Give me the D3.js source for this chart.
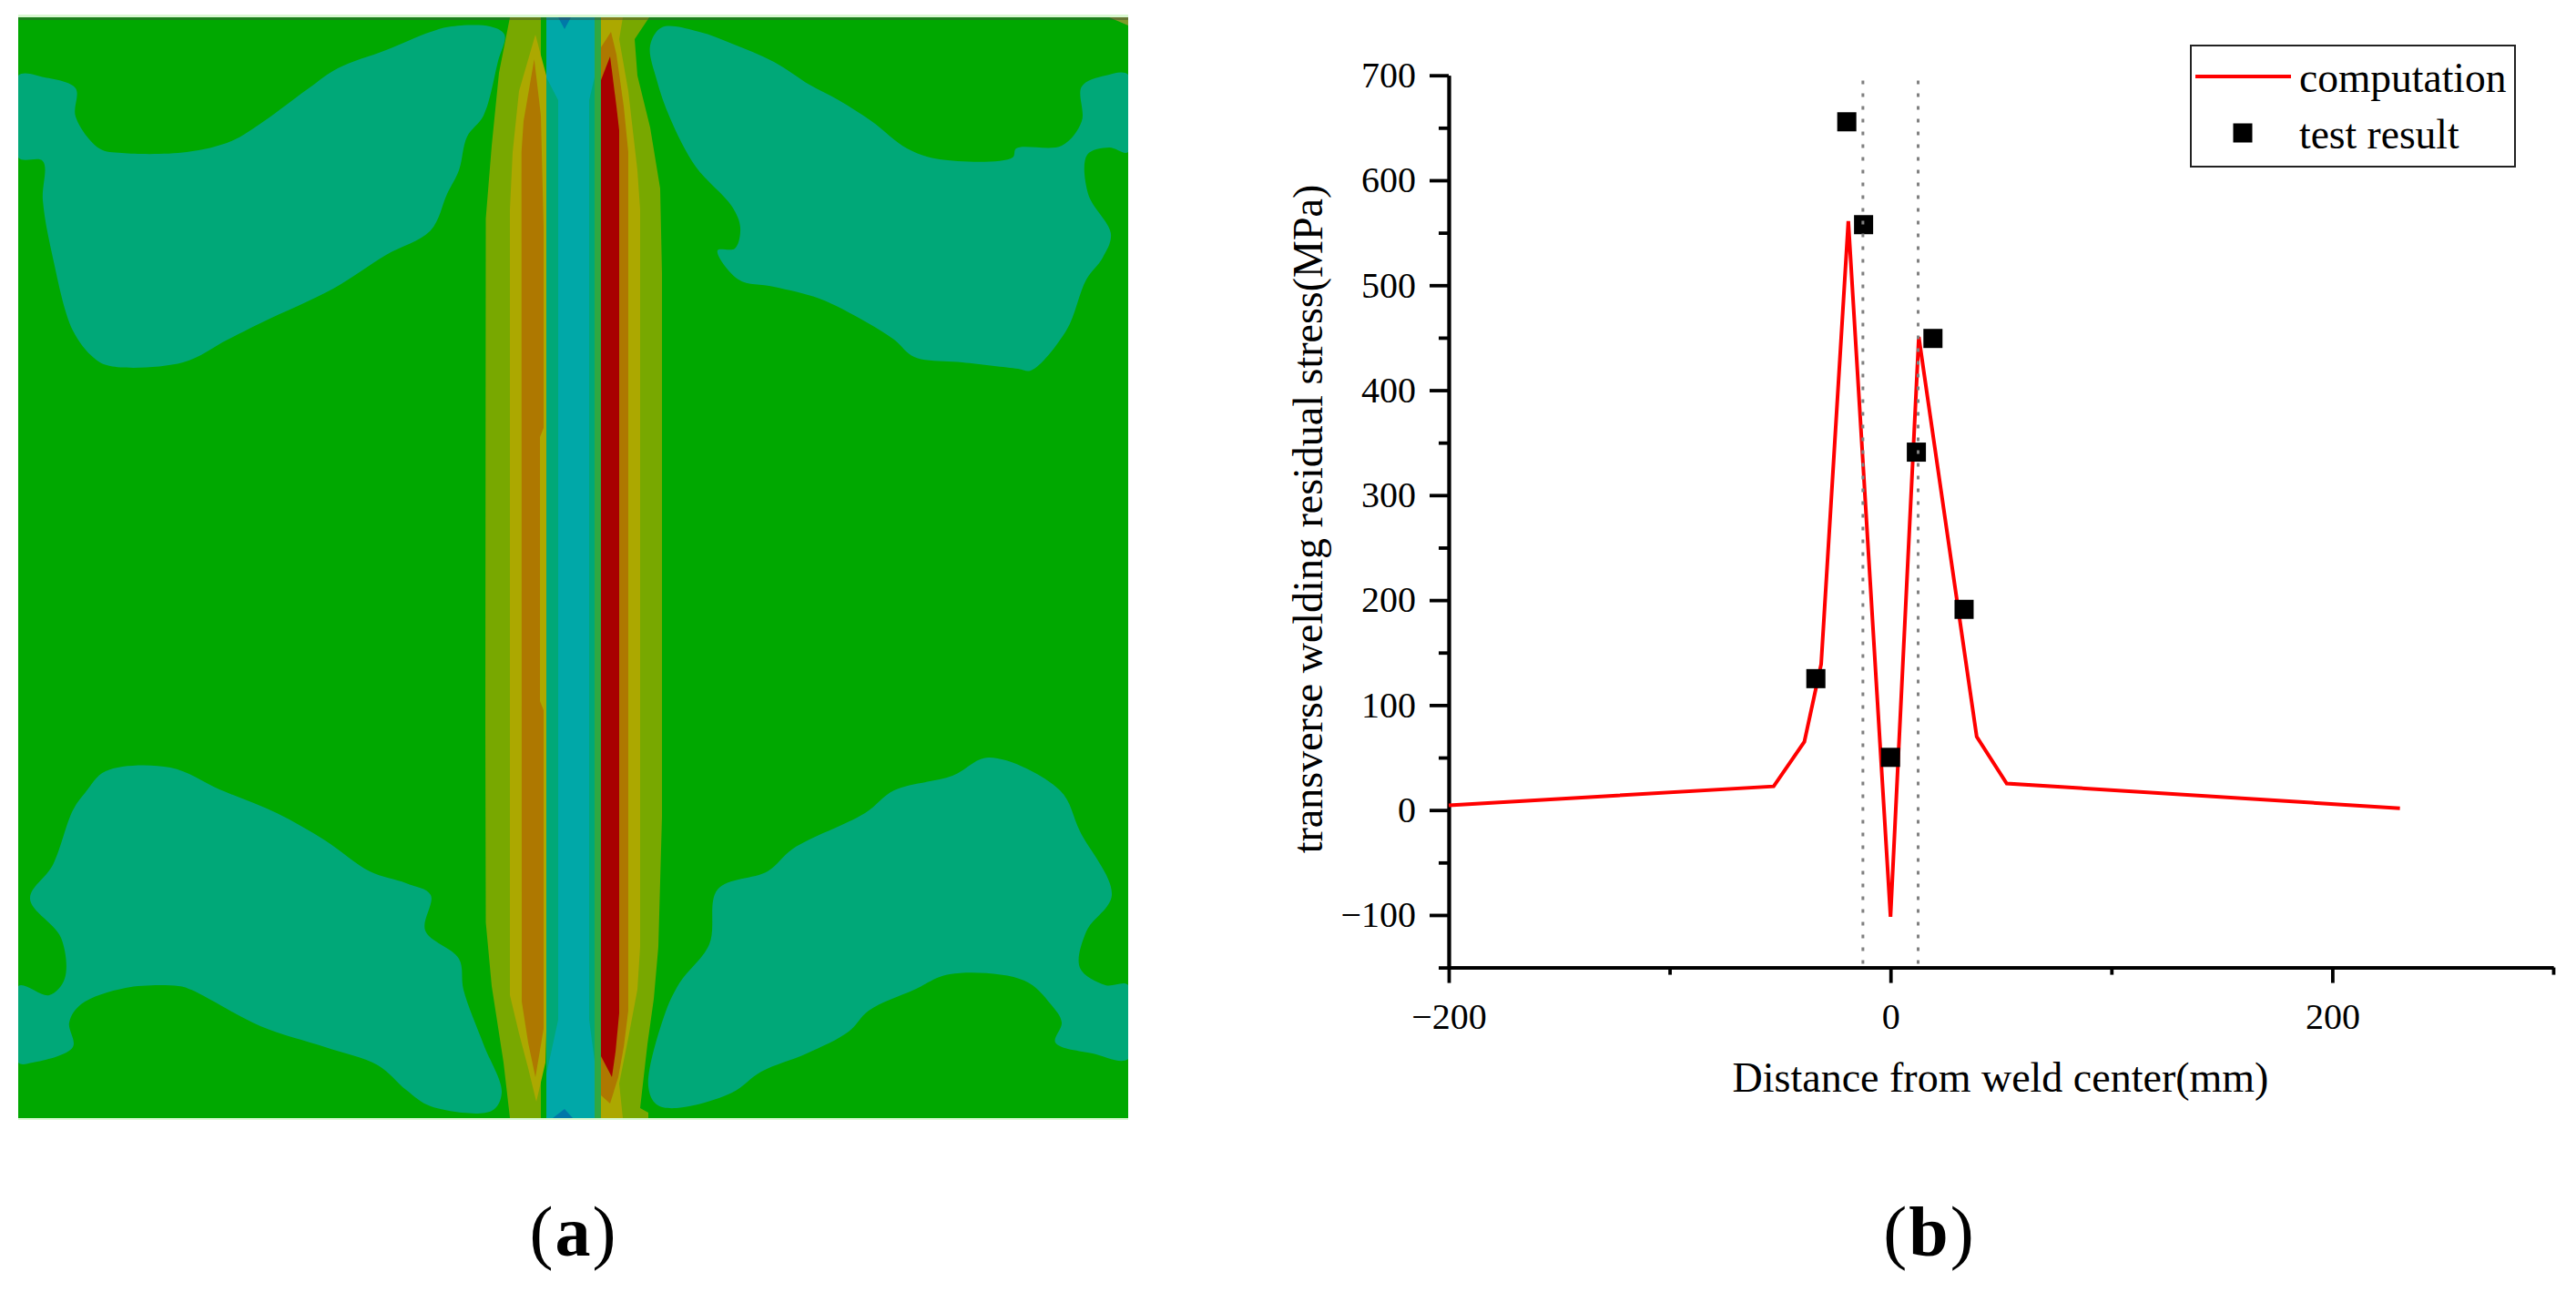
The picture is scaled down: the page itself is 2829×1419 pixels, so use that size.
<!DOCTYPE html>
<html>
<head>
<meta charset="utf-8">
<script src="https://cdn.jsdelivr.net/npm/d3@7"></script>
<style>
  body { margin: 0; background: #fff; }
  svg { display: block; }
  text { font-family: "Liberation Serif", serif; fill: #000; }
  .axis path, .axis line { stroke: #000; stroke-width: 3.8; }
  .axis text { font-size: 40px; font-family: "Liberation Serif", serif; }
</style>
</head>
<body>
<script>
const width = 2829,
      height = 1419;

// computed stress curve
const curveX = [-200, -52.9, -39, -31.4, -19.1, 0, 12.8, 39, 52.6, 230.6];
const curveY = [4.5, 22.6, 65, 139, 561, -101.7, 450.7, 70, 25.3, 1.7];

// measured points
const testX = [-33.8, -19.8, -12.2, 0, 11.7, 19.2, 33.3];
const testY = [125.2, 655.7, 557.7, 50.2, 341, 449.3, 191.2];

// weld zone limits, dotted lines
const weldEdges = [-12.5, 12.5];

const yMajor = [-100, 0, 100, 200, 300, 400, 500, 600, 700];
const yMinor = [-150, -50, 50, 150, 250, 350, 450, 550, 650];
const xMajor = [-200, 0, 200];
const xMinor = [-100, 100, 300];

const legendLabels = ["computation", "test result"];
const panelLabels = ["a", "b"];

// panel (a) contour regions, [x, y] in field image pixels
const tealTopLeft = [[20,83],[49,85],[83,97],[83,128],[109,163],[134,168],[205,167],[254,155],[290,133],[339,97],[371,75],[424,55],[473,35],[496,29],[538,29],[554,38],[547,67],[531,127],[513,150],[504,187],[491,213],[473,253],[424,280],[366,317],[290,353],[250,373],[201,398],[121,402],[103,393],[80,363],[58,283],[47,220],[47,177],[20,173]];
const tealTopRight = [[714,50],[727,30],[768,35],[804,48],[850,68],[889,93],[921,110],[957,133],[996,163],[1032,175],[1112,173],[1116,163],[1166,160],[1188,133],[1188,95],[1214,83],[1239,82],[1239,167],[1218,162],[1194,170],[1195,213],[1220,257],[1211,283],[1193,307],[1171,363],[1132,407],[1118,405],[1057,398],[1004,392],[982,373],[950,353],[900,328],[850,315],[811,307],[788,275],[807,273],[813,250],[804,227],[764,183],[736,130],[721,87]];
const tealBottomLeft = [[20,1083],[54,1093],[71,1075],[67,1030],[33,987],[58,950],[80,890],[94,870],[116,847],[187,843],[241,867],[304,893],[357,923],[406,957],[446,970],[473,983],[467,1022],[504,1053],[509,1087],[531,1147],[551,1200],[540,1220],[473,1215],[446,1197],[415,1170],[357,1150],[286,1127],[210,1087],[196,1083],[138,1085],[89,1103],[76,1123],[80,1150],[36,1167],[20,1167]];
const tealBottomRight = [[712,1193],[729,1117],[746,1080],[779,1037],[788,977],[843,957],[871,932],[950,893],[982,868],[1046,852],[1086,832],[1164,868],[1186,913],[1221,983],[1193,1023],[1186,1063],[1214,1082],[1239,1082],[1239,1163],[1200,1157],[1159,1145],[1166,1123],[1154,1103],[1125,1077],[1043,1070],[1004,1087],[954,1110],[932,1133],[886,1157],[836,1177],[804,1200],[743,1217],[721,1213]];

const oliveLeft = [[560,19],[594,19],[594,1228],[560,1228],[553,1167],[540,1083],[533.5,1013],[533,800],[533.5,240],[540,160],[548,80]];
const yellowLeft = [[588,38],[570,100],[563,167],[560,230],[560,1093],[570,1135],[580,1173],[589,1210],[599,1167],[600,1133],[600,83],[593,57]];
const orangeLeft = [[586.7,65],[575,133],[572.7,167],[573,1100],[580,1145],[588,1183],[597,1130],[597,780],[593,770],[593,480],[597,470],[597,250],[594,127]];
const tealCore = [[600,19],[653,19],[653,1228],[600,1228]];
const cyanCore = [[600,19],[653,19],[653,85],[647,110],[647,1120],[655,1180],[658,1228],[600,1228],[600,1180],[613,1120],[613,110],[600,85]];
const blueTop = [[613,19],[627,19],[620,32]];
const blueBottom = [[607,1228],[620,1218],[629,1228]];
const greenSeam = [[653,19],[660,19],[660,1228],[653,1228]];
const oliveRight = [[660,19],[713,19],[697,43],[700,83],[714,140],[725,207],[727,300],[727,897],[723,1040],[718,1097],[711,1147],[703,1217],[712,1222],[712,1228],[660,1228]];
const yellowRight = [[660,19],[684,19],[680,43],[690,100],[700,187],[703,230],[703,1040],[700,1087],[690,1140],[680,1190],[684,1228],[660,1228]];
const orangeRight = [[660,52],[671,35],[677,60],[685,117],[690,167],[690,1110],[685,1150],[679,1183],[670,1212],[660,1203]];
const redRight = [[660,88],[670,62],[677,117],[680,143],[680,1113],[676,1155],[672,1183],[660,1160]];
const cornerTip = [[1218,19],[1239,19],[1239,28]];

const svg = d3.select("body")
    .append("svg")
    .attr("width", width)
    .attr("height", height);

// ---- panel (a) ----
const fx = d3.scaleLinear().domain([20, 1239]).range([20, 1239]);
const fy = d3.scaleLinear().domain([19, 1228]).range([19, 1228]);

const region = d3.line()
    .x(d => fx(d[0]))
    .y(d => fy(d[1]))
    .curve(d3.curveLinearClosed);

// blobs are rounder than the stripes
const blob = d3.line()
    .x(d => fx(d[0]))
    .y(d => fy(d[1]))
    .curve(d3.curveCatmullRomClosed.alpha(0.5));

svg.append("clipPath")
    .attr("id", "field")
    .append("rect")
    .attr("x", fx(20))
    .attr("y", fy(19))
    .attr("width", fx(1239) - fx(20))
    .attr("height", fy(1228) - fy(19));

// light fringe around the pasted image
svg.append("rect")
    .attr("x", fx(20))
    .attr("y", fy(19) - 3)
    .attr("width", fx(1239) - fx(20))
    .attr("height", fy(1228) - fy(19) + 5)
    .attr("fill", "#d8f8d0");

const map = svg.append("g")
    .attr("class", "map")
    .attr("clip-path", "url(#field)");

map.append("rect")
    .attr("x", fx(20))
    .attr("y", fy(19))
    .attr("width", fx(1239) - fx(20))
    .attr("height", fy(1228) - fy(19))
    .attr("fill", "#00a800");

const blobs = [tealTopLeft, tealTopRight, tealBottomLeft, tealBottomRight];

map.selectAll("path.blob")
    .data(blobs)
    .enter().append("path")
    .attr("class", "blob")
    .attr("d", blob)
    .attr("fill", "#00a878");

const regions = [
  [oliveLeft, "#78a800"],
  [yellowLeft, "#aca800"],
  [orangeLeft, "#ae7800"],
  [tealCore, "#00a878"],
  [cyanCore, "#00a8a8"],
  [blueTop, "#0078a8"],
  [blueBottom, "#0078a8"],
  [greenSeam, "#30a840"],
  [oliveRight, "#78a800"],
  [yellowRight, "#aca800"],
  [orangeRight, "#ae7800"],
  [redRight, "#a80000"],
  [cornerTip, "#7f9a2a"]
];

map.selectAll("path.band")
    .data(regions)
    .enter().append("path")
    .attr("class", "band")
    .attr("d", d => region(d[0]))
    .attr("fill", d => d[1]);

// dark edge along the top of the image
map.append("rect")
    .attr("x", fx(20))
    .attr("y", fy(19))
    .attr("width", fx(1239) - fx(20))
    .attr("height", 3)
    .attr("fill", "#404040")
    .attr("opacity", 0.4);

// ---- panel (b) ----
const x = d3.scaleLinear().domain([-200, 300]).range([1591, 2804]);
const y = d3.scaleLinear().domain([-150, 700]).range([1062.6, 82.7]);

const fmt = d3.format("d");

svg.append("g")
    .attr("class", "axis")
    .attr("transform", `translate(0,${y(-150)})`)
    .call(d3.axisBottom(x).tickValues(xMinor).tickSize(8).tickSizeOuter(0).tickFormat(""));

svg.append("g")
    .attr("class", "axis")
    .attr("transform", `translate(0,${y(-150)})`)
    .call(d3.axisBottom(x).tickValues(xMajor).tickSize(17).tickSizeOuter(0).tickPadding(22).tickFormat(fmt));

svg.append("g")
    .attr("class", "axis")
    .attr("transform", `translate(${x(-200)},0)`)
    .call(d3.axisLeft(y).tickValues(yMinor).tickSize(11).tickSizeOuter(0).tickFormat(""));

svg.append("g")
    .attr("class", "axis")
    .attr("transform", `translate(${x(-200)},0)`)
    .call(d3.axisLeft(y).tickValues(yMajor).tickSize(21).tickSizeOuter(0).tickPadding(15).tickFormat(fmt));

const curve = d3.line()
    .x(i => x(curveX[i]))
    .y(i => y(curveY[i]));

svg.append("path")
    .attr("d", curve(d3.range(curveX.length)))
    .attr("fill", "none")
    .attr("stroke", "#ff0000")
    .attr("stroke-width", 4);

const square = d3.symbol().type(d3.symbolSquare).size(441);

svg.selectAll("path.test")
    .data(d3.range(testX.length))
    .enter().append("path")
    .attr("class", "test")
    .attr("d", square)
    .attr("transform", i => `translate(${x(testX[i])},${y(testY[i])})`)
    .attr("fill", "#000");

svg.selectAll("line.weld")
    .data(weldEdges)
    .enter().append("line")
    .attr("class", "weld")
    .attr("x1", d => x(d))
    .attr("x2", d => x(d))
    .attr("y1", y(695))
    .attr("y2", y(-150))
    .attr("stroke", "#808080")
    .attr("stroke-width", 3)
    .attr("stroke-dasharray", "4 10");

// axis titles
svg.append("text")
    .attr("x", 2197)
    .attr("y", 1199)
    .attr("text-anchor", "middle")
    .attr("font-size", 46)
    .text("Distance from weld center(mm)");

svg.append("text")
    .attr("transform", "translate(1452,570) rotate(-90)")
    .attr("text-anchor", "middle")
    .attr("font-size", 46)
    .text("transverse welding residual stress(MPa)");

// legend
const legend = svg.append("g").attr("class", "legend");

legend.append("rect")
    .attr("x", 2406)
    .attr("y", 50)
    .attr("width", 356)
    .attr("height", 133)
    .attr("fill", "#fff")
    .attr("stroke", "#222")
    .attr("stroke-width", 2);

legend.append("line")
    .attr("x1", 2411)
    .attr("x2", 2516)
    .attr("y1", 84)
    .attr("y2", 84)
    .attr("stroke", "#ff0000")
    .attr("stroke-width", 4);

legend.append("path")
    .attr("d", square)
    .attr("transform", "translate(2463,146)")
    .attr("fill", "#000");

legend.selectAll("text")
    .data(legendLabels)
    .enter().append("text")
    .attr("x", 2525)
    .attr("y", (d, i) => i ? 163 : 101)
    .attr("font-size", 45.5)
    .text(d => d);

// (a) and (b)
const labels = svg.selectAll("text.panel")
    .data(panelLabels)
    .enter().append("text")
    .attr("class", "panel")
    .attr("x", (d, i) => i ? 2119 : 630)
    .attr("y", 1379)
    .attr("text-anchor", "middle")
    .attr("font-size", 78)
    .attr("letter-spacing", 2);

labels.append("tspan").text("(");
labels.append("tspan").attr("font-weight", "bold").text(d => d);
labels.append("tspan").text(")");
</script>
</body>
</html>
